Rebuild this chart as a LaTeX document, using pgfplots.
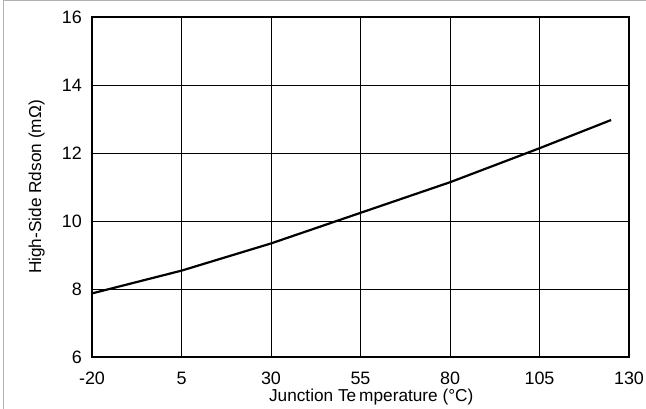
\documentclass[border=0pt]{standalone}
\usepackage{pgfplots}
\pgfplotsset{compat=1.18}
\usepackage{fontspec}
\setmainfont{Liberation Sans}

\begin{document}
\begin{tikzpicture}
\useasboundingbox (0,0) rectangle (646bp,409bp);
% thin gray frame (left and top edges)
\draw[gray!60, line width=1bp] (3.5bp,0) -- (3.5bp,408.5bp) -- (646bp,408.5bp);
\begin{axis}[
  at={(92bp,52bp)}, anchor=south west,
  scale only axis, width=537bp, height=340bp,
  xmin=-20, xmax=130, ymin=6, ymax=16,
  xtick={-20,5,30,55,80,105,130},
  ytick={6,8,10,12,14,16},
  major tick length=0pt,
  grid=major,
  major grid style={black, line width=0.8bp},
  axis line style={line width=2.6bp},
  /pgf/number format/assume math mode=true,
  tick label style={font=\fontsize{18}{21}\selectfont},
  xticklabel style={anchor=north, inner sep=0pt, yshift=-15bp},
  yticklabel style={anchor=east, inner sep=0pt, xshift=-10bp},
  label style={font=\fontsize{17.3}{20}\selectfont},
  xlabel={Junction Te\hspace{3bp}mperature (°C)},
  xlabel style={at={(axis description cs:0.52,-0.094)}, anchor=north, inner sep=0pt},
  ylabel={High-Side Rdson (mΩ)},
  ylabel style={at={(axis description cs:-0.103,0.5)}, anchor=center, inner sep=0pt},
  clip=false,
]
\addplot[black, line width=2.2bp] coordinates {
  (-20,7.87) (5,8.54) (30,9.34) (55,10.24) (80,11.14) (105,12.14) (125,12.97)
};
\end{axis}
\end{tikzpicture}
\end{document}
